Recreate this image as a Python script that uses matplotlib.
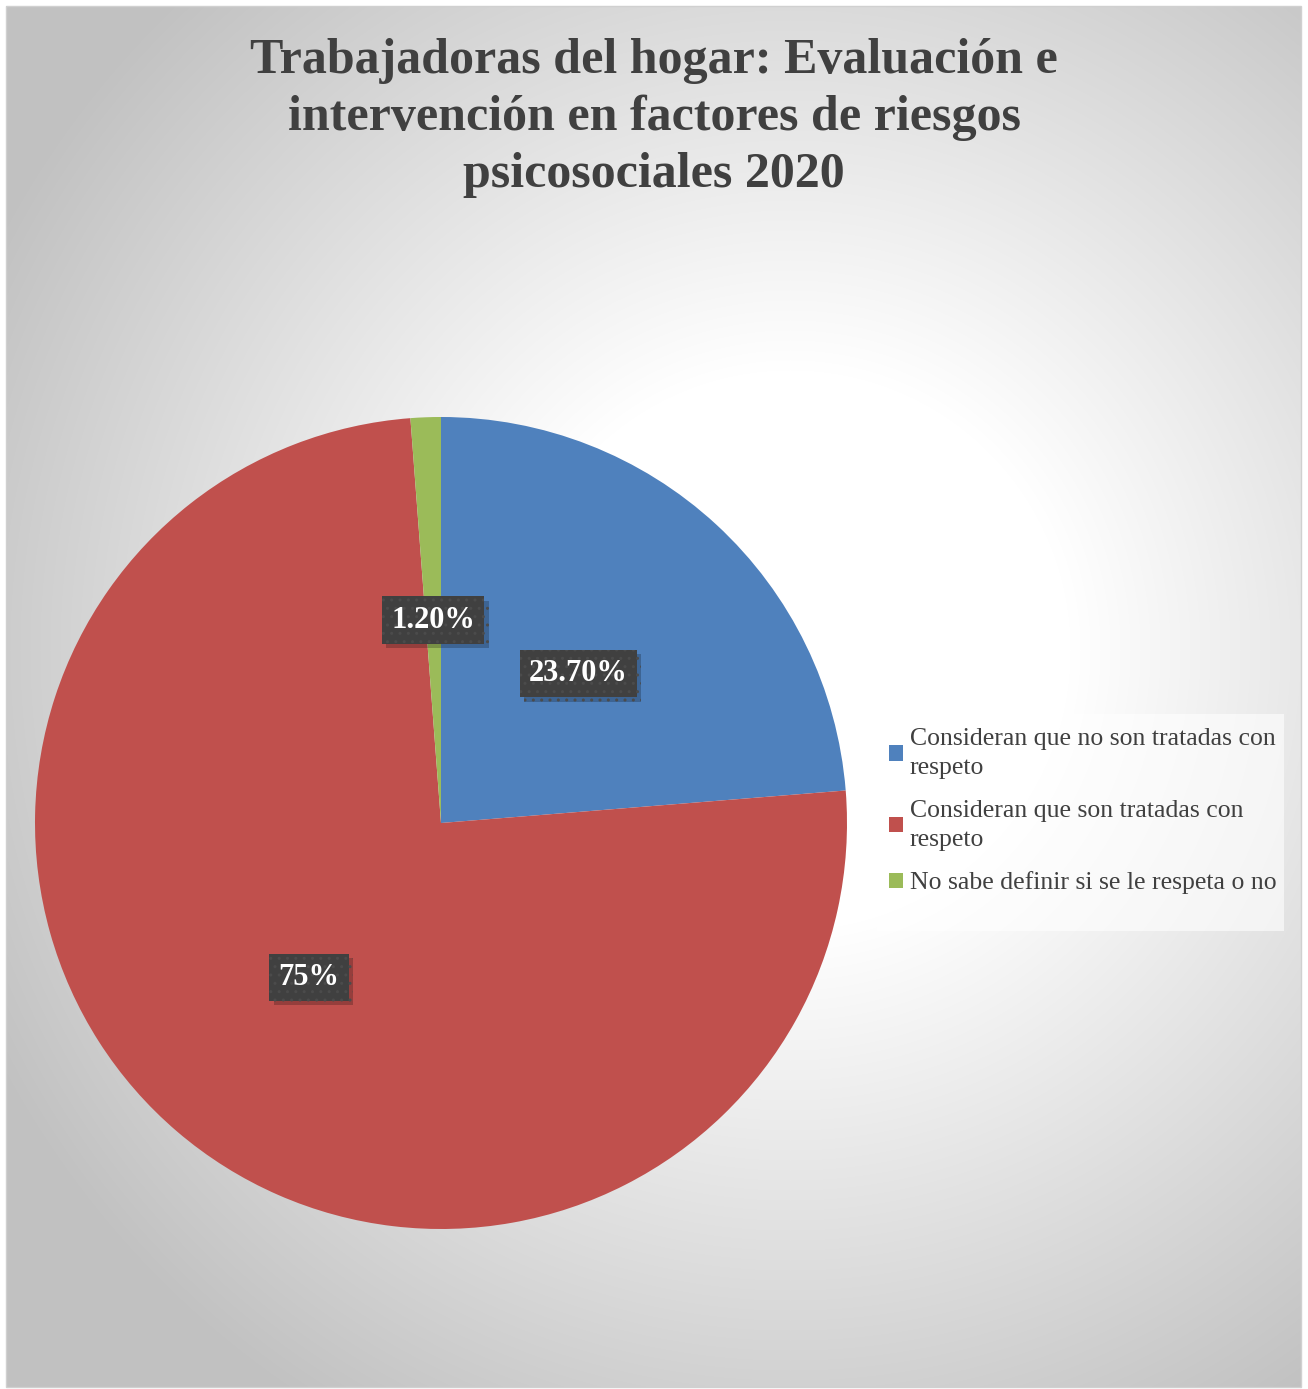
import numpy as np
import matplotlib
matplotlib.use("Agg")
import matplotlib.pyplot as plt
from matplotlib import patheffects as pe
from matplotlib.patches import Rectangle

# ---- data ----
title = "Trabajadoras del hogar: Evaluación e\nintervención en factores de riesgos\npsicosociales 2020"
categories = [
    "Consideran que no son tratadas con\nrespeto",
    "Consideran que son tratadas con\nrespeto",
    "No sabe definir si se le respeta o no",
]
values = [23.70, 75.0, 1.20]
value_labels = ["23.70%", "75%", "1.20%"]
colors = ["#4F81BD", "#C0504D", "#9BBB59"]

W, H = 1308, 1389
fig = plt.figure(figsize=(W / 100, H / 100), dpi=100)
fig.patch.set_facecolor("white")

# ---- background radial gradient (chart area) ----
x0, y0, x1, y1 = 6, 6, 1301, 1387  # pixel box, top-left origin
bg = fig.add_axes([x0 / W, 1 - y1 / H, (x1 - x0) / W, (y1 - y0) / H])
bg.set_zorder(-5)
yy, xx = np.mgrid[y0:y1, x0:x1]
cx, cy = 790, 650
d = np.hypot(xx - cx, yy - cy)
r0, r1 = 280, 900
t = np.clip((d - r0) / (r1 - r0), 0, 1)
g = 255 - t * (255 - 193)
img = np.dstack([g, g, g]) / 255.0
bg.imshow(img, aspect="auto", interpolation="bilinear")
bg.set_axis_off()
fig.patches.append(Rectangle((x0 / W, 1 - y1 / H), (x1 - x0) / W, (y1 - y0) / H,
                             transform=fig.transFigure, fill=False,
                             edgecolor="#d0d0d0", linewidth=1.0, zorder=-4))

# ---- title ----
fig.text(0.5, 1 - 118 / H, title, ha="center", va="center",
         fontsize=36, fontweight="bold", color="#404040",
         family="Liberation Serif", linespacing=1.3)

# ---- pie ----
cxp, cyp, R = 441, 823, 406
ax = fig.add_axes([(cxp - R) / W, (H - cyp - R) / H, 2 * R / W, 2 * R / H])
wedges, texts = ax.pie(values, colors=colors, startangle=90, counterclock=False,
                       labels=value_labels, labeldistance=0.5,
                       wedgeprops=dict(linewidth=0))
ax.set_xlim(-1, 1)
ax.set_ylim(-1, 1)
ax.set_aspect("equal")
ax.set_axis_off()

for tx in texts:
    tx.set_ha("center")
    tx.set_va("center")
    tx.set_fontsize(22)
    tx.set_fontweight("bold")
    tx.set_color("white")
    tx.set_family("Liberation Serif")
    tx.set_bbox(dict(boxstyle="square,pad=0.3", facecolor="#404040",
                     edgecolor="#4b4b4b", linewidth=0, hatch=".."))
    tx.get_bbox_patch().set_path_effects(
        [pe.SimplePatchShadow(offset=(3, -3), shadow_rgbFace="black", alpha=0.22),
         pe.Normal()])

# ---- legend ----
lx, ly, lw, lh = 877, 714, 407, 217
fig.patches.append(Rectangle((lx / W, 1 - (ly + lh) / H), lw / W, lh / H,
                             transform=fig.transFigure, facecolor="white",
                             alpha=0.6, edgecolor="none", zorder=1))
leg = fig.legend(wedges, categories, loc="upper left",
                 bbox_to_anchor=(889 / W, 1 - 728 / H),
                 borderaxespad=0, borderpad=0,
                 prop=dict(family="Liberation Serif", size=18.5),
                 labelcolor="#404040", handlelength=0.55, handleheight=0.55,
                 handletextpad=0.25, labelspacing=0.8,
                 frameon=False)
for t_ in leg.get_texts():
    t_.set_linespacing(1.42)

fig.savefig("out.png", dpi=100)
